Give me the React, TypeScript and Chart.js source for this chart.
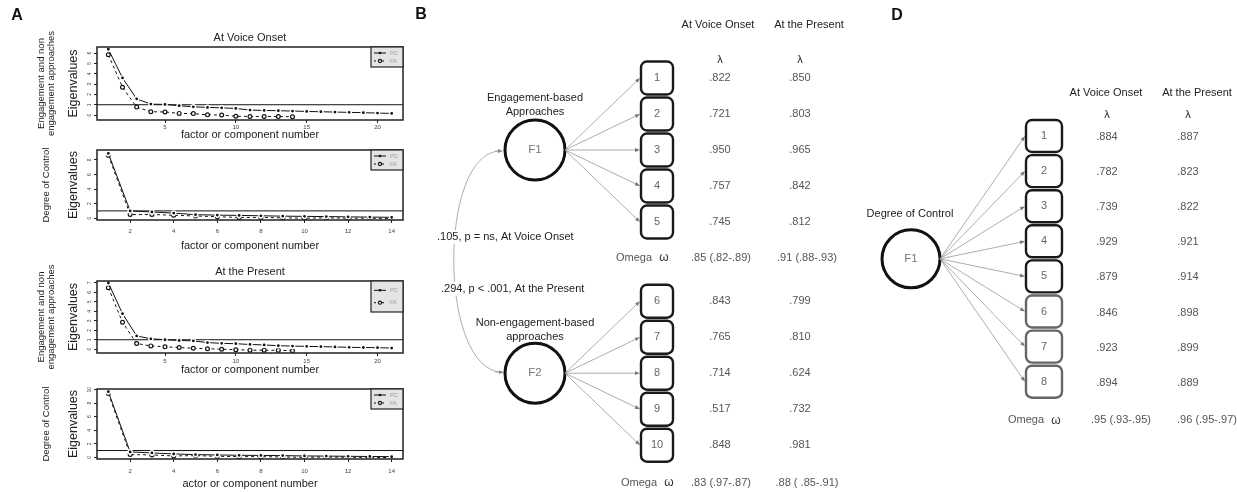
import React, { useEffect, useRef } from "react";
import { Chart, registerables } from "chart.js";

Chart.register(...registerables);

const FONT = '"Liberation Sans", Arial, Helvetica, sans-serif';

// ---------------- Panel A data (scree plots) ----------------
const componentsEngagement = [1, 2, 3, 4, 5, 6, 7, 8, 9, 10, 11, 12, 13, 14, 15, 16, 17, 18, 19, 20, 21];
const componentsControl = [1, 2, 3, 4, 5, 6, 7, 8, 9, 10, 11, 12, 13, 14];

const pcOnsetEngagement = [6.38, 3.6, 1.57, 1.06, 1.03, 0.9, 0.8, 0.74, 0.7, 0.64, 0.48, 0.45, 0.42, 0.39, 0.35, 0.32, 0.29, 0.26, 0.23, 0.19, 0.16];
const faOnsetEngagement = [5.85, 2.7, 0.77, 0.32, 0.3, 0.16, 0.14, 0.02, 0.0, -0.12, -0.14, -0.14, -0.15, -0.16];

const pcOnsetControl = [8.9, 1.0, 0.85, 0.7, 0.48, 0.42, 0.38, 0.33, 0.28, 0.25, 0.22, 0.18, 0.15, 0.12];
const faOnsetControl = [8.65, 0.5, 0.5, 0.4, 0.3, 0.2, 0.1, 0.1, 0.05, 0.0, 0.05, 0.0, 0.0, -0.05];

const pcPresentEngagement = [7.0, 3.75, 1.4, 1.1, 1.0, 0.92, 0.88, 0.7, 0.62, 0.58, 0.5, 0.45, 0.37, 0.33, 0.3, 0.27, 0.24, 0.2, 0.18, 0.16, 0.12];
const faPresentEngagement = [6.5, 2.85, 0.6, 0.35, 0.25, 0.18, 0.1, 0.05, 0.0, -0.05, -0.1, -0.1, -0.12, -0.15];

const pcPresentControl = [9.7, 0.8, 0.65, 0.5, 0.4, 0.35, 0.3, 0.28, 0.25, 0.2, 0.18, 0.15, 0.12, 0.1];
const faPresentControl = [9.45, 0.4, 0.35, 0.2, 0.25, 0.15, 0.1, 0.1, 0.05, 0.0, 0.05, 0.0, 0.0, -0.05];

const eigenCutoff = 1;
const xTicksEngagement = [5, 10, 15, 20];
const xTicksControl = [2, 4, 6, 8, 10, 12, 14];
const yTicksOnsetEngagement = [0, 1, 2, 3, 4, 5, 6];
const yTicksOnsetControl = [0, 2, 4, 6, 8];
const yTicksPresentEngagement = [0, 1, 2, 3, 4, 5, 6, 7];
const yTicksPresentControl = [0, 2, 4, 6, 8, 10];
const legendLabels = ["PC", "FA"];

// ---------------- Panel B data ----------------
const columnHeaders = ["At Voice Onset", "At the Present"];
const itemsB = ["1", "2", "3", "4", "5", "6", "7", "8", "9", "10"];
const itemFactorB = [0, 0, 0, 0, 0, 1, 1, 1, 1, 1];
const onsetLoadingsB = [".822", ".721", ".950", ".757", ".745", ".843", ".765", ".714", ".517", ".848"];
const presentLoadingsB = [".850", ".803", ".965", ".842", ".812", ".799", ".810", ".624", ".732", ".981"];
const omegaOnsetB = [".85 (.82-.89)", ".83 (.97-.87)"];
const omegaPresentB = [".91 (.88-.93)", ".88 ( .85-.91)"];
const factorsB = ["F1", "F2"];
const factorNamesB = [["Engagement-based", "Approaches"], ["Non-engagement-based", "approaches"]];
const correlationLabelsB = [".105, p = ns, At Voice Onset", ".294, p < .001, At the Present"];

// ---------------- Panel D data ----------------
const itemsD = ["1", "2", "3", "4", "5", "6", "7", "8"];
const onsetLoadingsD = [".884", ".782", ".739", ".929", ".879", ".846", ".923", ".894"];
const presentLoadingsD = [".887", ".823", ".822", ".921", ".914", ".898", ".899", ".889"];
const omegaOnsetD = ".95 (.93-.95)";
const omegaPresentD = ".96 (.95-.97)";
const factorD = "F1";
const factorNameD = "Degree of Control";

// ---------------- layout constants ----------------
const BOX_LEFT = 97;
const BOX_RIGHT = 403;
const A_CANVAS_W = 412;
const Y_AXIS_W = 16;
const X_AXIS_H = 14;

type ScreeSpec = {
  top: number;
  height: number;
  boxTop: number;
  boxBottom: number;
  xs: number[];
  pc: number[];
  fa: number[];
  xMin: number;
  xMax: number;
  yMin: number;
  yMax: number;
  xTicks: number[];
  yTicks: number[];
  title?: string;
  xTitle: string;
  outer: string[];
  tickGap: number;
  titleGap: number;
  legendH: number;
  letter?: string;
};

const screeSpecs: ScreeSpec[] = [
  {
    top: 0, height: 142, boxTop: 47, boxBottom: 120,
    xs: componentsEngagement, pc: pcOnsetEngagement, fa: faOnsetEngagement,
    xMin: 0.2, xMax: 21.8, yMin: -0.48, yMax: 6.6,
    xTicks: xTicksEngagement, yTicks: yTicksOnsetEngagement,
    title: "At Voice Onset", xTitle: "factor or component number",
    outer: ["Engagement and non", "engagement approaches"],
    tickGap: 7, titleGap: 15, legendH: 20, letter: "A",
  },
  {
    top: 142, height: 110, boxTop: 150, boxBottom: 220,
    xs: componentsControl, pc: pcOnsetControl, fa: faOnsetControl,
    xMin: 0.48, xMax: 14.52, yMin: -0.25, yMax: 9.37,
    xTicks: xTicksControl, yTicks: yTicksOnsetControl,
    xTitle: "factor or component number",
    outer: ["Degree of Control"],
    tickGap: 11, titleGap: 26, legendH: 20,
  },
  {
    top: 252, height: 122, boxTop: 281, boxBottom: 353,
    xs: componentsEngagement, pc: pcPresentEngagement, fa: faPresentEngagement,
    xMin: 0.2, xMax: 21.8, yMin: -0.4, yMax: 7.2,
    xTicks: xTicksEngagement, yTicks: yTicksPresentEngagement,
    title: "At the Present", xTitle: "factor or component number",
    outer: ["Engagement and non", "engagement approaches"],
    tickGap: 8, titleGap: 17, legendH: 31,
  },
  {
    top: 374, height: 118, boxTop: 389, boxBottom: 459,
    xs: componentsControl, pc: pcPresentControl, fa: faPresentControl,
    xMin: 0.48, xMax: 14.52, yMin: -0.25, yMax: 10.1,
    xTicks: xTicksControl, yTicks: yTicksPresentControl,
    xTitle: "actor or component number",
    outer: ["Degree of Control"],
    tickGap: 12, titleGap: 25, legendH: 20,
  },
];

function ScreePlot({ spec }: { spec: ScreeSpec }) {
  const ref = useRef<HTMLCanvasElement>(null);
  useEffect(() => {
    const s = spec;
    const canvas = ref.current!;
    const decor = {
      id: "screeDecor",
      beforeDatasetsDraw(chart: any) {
        const { ctx, chartArea: a, scales } = chart;
        const y = scales.y.getPixelForValue(eigenCutoff);
        ctx.save();
        ctx.strokeStyle = "#111";
        ctx.lineWidth = 1;
        ctx.beginPath();
        ctx.moveTo(a.left, y);
        ctx.lineTo(a.right, y);
        ctx.stroke();
        ctx.restore();
      },
      afterDraw(chart: any) {
        const { ctx, chartArea: a, scales } = chart;
        ctx.save();
        // frame
        ctx.strokeStyle = "#222";
        ctx.lineWidth = 1.5;
        ctx.strokeRect(a.left, a.top, a.right - a.left, a.bottom - a.top);
        // rotated y tick labels (R style)
        ctx.fillStyle = "#444";
        ctx.font = `5px ${FONT}`;
        ctx.textAlign = "center";
        ctx.textBaseline = "middle";
        s.yTicks.forEach((v) => {
          const py = scales.y.getPixelForValue(v);
          ctx.save();
          ctx.translate(a.left - 7, py);
          ctx.rotate(-Math.PI / 2);
          ctx.fillText(String(v), 0, 0);
          ctx.restore();
        });
        // legend
        const lw = 32;
        const lh = s.legendH;
        const lx = a.right - lw;
        const ly = a.top;
        ctx.fillStyle = "#e4e4e4";
        ctx.fillRect(lx, ly, lw, lh);
        ctx.lineWidth = 1.2;
        ctx.strokeStyle = "#222";
        ctx.strokeRect(lx, ly, lw, lh);
        legendLabels.forEach((lab, i) => {
          const yy = ly + (i === 0 ? 6 : 14) * (lh / 20);
          ctx.strokeStyle = "#111";
          ctx.lineWidth = 1;
          ctx.setLineDash(i === 0 ? [] : [2, 2]);
          ctx.beginPath();
          ctx.moveTo(lx + 3, yy);
          ctx.lineTo(lx + 15, yy);
          ctx.stroke();
          ctx.setLineDash([]);
          ctx.beginPath();
          ctx.arc(lx + 9, yy, i === 0 ? 1.3 : 1.6, 0, Math.PI * 2);
          if (i === 0) {
            ctx.fillStyle = "#111";
            ctx.fill();
          } else {
            ctx.fillStyle = "#e4e4e4";
            ctx.fill();
            ctx.lineWidth = 1.1;
            ctx.stroke();
          }
          ctx.fillStyle = "#9a9a9a";
          ctx.font = `5.5px ${FONT}`;
          ctx.textAlign = "left";
          ctx.textBaseline = "middle";
          ctx.fillText(lab, lx + 19, yy);
        });
        const cx = (a.left + a.right) / 2;
        const cy = (a.top + a.bottom) / 2;
        ctx.fillStyle = "#222";
        ctx.textAlign = "center";
        ctx.textBaseline = "middle";
        ctx.font = `11px ${FONT}`;
        if (s.title) ctx.fillText(s.title, cx, a.top - 9);
        ctx.fillText(s.xTitle, cx, a.bottom + s.titleGap);
        // Eigenvalues
        ctx.save();
        ctx.translate(74, cy);
        ctx.rotate(-Math.PI / 2);
        ctx.font = `12.5px ${FONT}`;
        ctx.fillText("Eigenvalues", 0, 0);
        ctx.restore();
        // outer labels
        const xs = s.outer.length === 2 ? [41, 51] : [46];
        s.outer.forEach((t, i) => {
          ctx.save();
          ctx.translate(xs[i], cy);
          ctx.rotate(-Math.PI / 2);
          ctx.font = `9.5px ${FONT}`;
          ctx.fillText(t, 0, 0);
          ctx.restore();
        });
        if (s.letter) {
          ctx.font = `bold 16px ${FONT}`;
          ctx.fillStyle = "#111";
          ctx.fillText(s.letter, 17, 16);
        }
        ctx.restore();
      },
    };
    const chart = new Chart(canvas, {
      type: "scatter",
      data: {
        datasets: [
          {
            label: legendLabels[1],
            data: s.fa.map((v, i) => ({ x: s.xs[i], y: v })),
            showLine: true,
            borderColor: "#111",
            borderWidth: 1,
            borderDash: [3, 3],
            pointRadius: 1.9,
            pointBackgroundColor: "#fff",
            pointBorderColor: "#111",
            pointBorderWidth: 1.2,
            order: 2,
          },
          {
            label: legendLabels[0],
            data: s.pc.map((v, i) => ({ x: s.xs[i], y: v })),
            showLine: true,
            borderColor: "#111",
            borderWidth: 1,
            pointRadius: 2.1,
            pointBackgroundColor: "#111",
            pointBorderColor: "#fff",
            pointBorderWidth: 1.4,
            order: 1,
          },
        ],
      },
      options: {
        animation: false,
        responsive: false,
        maintainAspectRatio: false,
        devicePixelRatio: 1,
        layout: {
          padding: {
            left: BOX_LEFT - Y_AXIS_W,
            right: A_CANVAS_W - BOX_RIGHT,
            top: s.boxTop - s.top,
            bottom: s.top + s.height - s.boxBottom - X_AXIS_H,
          },
        },
        plugins: { legend: { display: false }, tooltip: { enabled: false } },
        scales: {
          x: {
            type: "linear",
            min: s.xMin,
            max: s.xMax,
            afterFit: (sc: any) => {
              sc.height = X_AXIS_H;
            },
            afterBuildTicks: (sc: any) => {
              sc.ticks = s.xTicks.map((v) => ({ value: v }));
            },
            grid: { display: true, drawOnChartArea: false, drawTicks: true, tickLength: 3, color: "#222" },
            border: { display: false },
            ticks: { font: { size: 6, family: FONT }, color: "#444", padding: s.tickGap - 6, maxRotation: 0, autoSkip: false },
          },
          y: {
            type: "linear",
            min: s.yMin,
            max: s.yMax,
            afterFit: (sc: any) => {
              sc.width = Y_AXIS_W;
            },
            afterBuildTicks: (sc: any) => {
              sc.ticks = s.yTicks.map((v) => ({ value: v }));
            },
            grid: { display: true, drawOnChartArea: false, drawTicks: true, tickLength: 3, color: "#222" },
            border: { display: false },
            ticks: { display: false },
          },
        },
      },
      plugins: [decor],
    } as any);
    return () => chart.destroy();
  }, [spec]);
  return (
    <canvas
      ref={ref}
      width={A_CANVAS_W}
      height={spec.height}
      style={{ position: "absolute", left: 0, top: spec.top, width: A_CANVAS_W, height: spec.height }}
    />
  );
}

// ---------------- diagram helpers ----------------
function arrow(ctx: CanvasRenderingContext2D, x0: number, y0: number, x1: number, y1: number) {
  const ang = Math.atan2(y1 - y0, x1 - x0);
  const c = Math.cos(ang);
  const sn = Math.sin(ang);
  ctx.beginPath();
  ctx.moveTo(x0, y0);
  ctx.lineTo(x1 - c * 3, y1 - sn * 3);
  ctx.stroke();
  const L = 5;
  const W = 1.9;
  ctx.beginPath();
  ctx.moveTo(x1, y1);
  ctx.lineTo(x1 - L * c + W * sn, y1 - L * sn - W * c);
  ctx.lineTo(x1 - L * c - W * sn, y1 - L * sn + W * c);
  ctx.closePath();
  ctx.fill();
}

function text(ctx: CanvasRenderingContext2D, t: string, x: number, y: number, size: number, color: string, align: CanvasTextAlign = "center", weight = "") {
  ctx.font = `${weight} ${size}px ${FONT}`;
  ctx.fillStyle = color;
  ctx.textAlign = align;
  ctx.textBaseline = "middle";
  ctx.fillText(t, x, y);
}

type DiagramSpec = {
  left: number;
  width: number;
  row0: number;
  rowH: number;
  draw: (ctx: CanvasRenderingContext2D, X: (v: number) => number, Y: (r: number) => number) => void;
  nodes: { x: number; y: number }[];
};

function Diagram({ spec }: { spec: DiagramSpec }) {
  const ref = useRef<HTMLCanvasElement>(null);
  useEffect(() => {
    const s = spec;
    const yMin = -s.row0 / s.rowH;
    const yMax = yMin + 492 / s.rowH;
    const plugin = {
      id: "diagram",
      afterDraw(chart: any) {
        const { ctx, scales } = chart;
        const X = (v: number) => scales.x.getPixelForValue(v);
        const Y = (r: number) => scales.y.getPixelForValue(r);
        ctx.save();
        s.draw(ctx, X, Y);
        ctx.restore();
      },
    };
    const chart = new Chart(ref.current!, {
      type: "scatter",
      data: { datasets: [{ data: s.nodes, pointRadius: 0 }] },
      options: {
        animation: false,
        responsive: false,
        maintainAspectRatio: false,
        devicePixelRatio: 1,
        layout: { padding: 0 },
        plugins: { legend: { display: false }, tooltip: { enabled: false } },
        scales: {
          x: { type: "linear", min: s.left, max: s.left + s.width, display: false },
          y: { type: "linear", min: yMin, max: yMax, reverse: true, display: false },
        },
      },
      plugins: [plugin],
    } as any);
    return () => chart.destroy();
  }, [spec]);
  return (
    <canvas
      ref={ref}
      width={spec.width}
      height={492}
      style={{ position: "absolute", left: spec.left, top: 0, width: spec.width, height: 492 }}
    />
  );
}

// Panel B layout
const B_GROUP_START = [0, 6.2];
const B_FACTOR_X = 535;
const B_FACTOR_R = 30;
const B_BOX_X = 641;
const B_BOX_W = 32;
const B_BOX_H = 33;
const B_HEAD_X = [718, 809];
const B_VAL_X = [720, 800];
const B_OMEGA_VAL_X = [721, 807];
const rowOfB = (i: number) => B_GROUP_START[itemFactorB[i]] + (i - itemFactorB[i] * 5);

const specB: DiagramSpec = {
  left: 405,
  width: 455,
  row0: 78,
  rowH: 36,
  nodes: itemsB.map((_, i) => ({ x: B_BOX_X, y: rowOfB(i) })),
  draw: (ctx, X, Y) => {
    text(ctx, "B", X(421), 15, 16, "#111", "center", "bold");
    columnHeaders.forEach((h, j) => {
      text(ctx, h, X(B_HEAD_X[j]), Y(-1.47), 11, "#222");
      text(ctx, "λ", X(B_VAL_X[j]), Y(-0.5), 11, "#222");
    });
    // correlation curve
    const fy = B_GROUP_START.map((g) => g + 2);
    const x0 = X(B_FACTOR_X - B_FACTOR_R - 2);
    const y0 = Y(fy[0]) + 1;
    const y1 = Y(fy[1]) - 1;
    ctx.strokeStyle = "#999";
    ctx.fillStyle = "#888";
    ctx.lineWidth = 0.8;
    ctx.beginPath();
    ctx.moveTo(x0 - 3, y0);
    ctx.bezierCurveTo(X(438), y0 + 1, X(438), y1 - 2, x0 - 1, y1);
    ctx.stroke();
    arrow(ctx, x0 - 8, y0, x0, y0);
    arrow(ctx, x0 - 8, y1, x0 + 1, y1);
    // correlation labels with white backing
    const corrPos = [
      { x: 437, r: 4.42 },
      { x: 441, r: 5.86 },
    ];
    correlationLabelsB.forEach((t, i) => {
      ctx.font = `11px ${FONT}`;
      const w = ctx.measureText(t).width;
      ctx.fillStyle = "#fff";
      ctx.fillRect(X(corrPos[i].x) - 1, Y(corrPos[i].r) - 7, w + 2, 14);
      text(ctx, t, X(corrPos[i].x), Y(corrPos[i].r), 11, "#222", "left");
    });
    // factors
    factorsB.forEach((f, g) => {
      const cy = Y(fy[g]);
      ctx.beginPath();
      ctx.arc(X(B_FACTOR_X), cy, B_FACTOR_R, 0, Math.PI * 2);
      ctx.strokeStyle = "#111";
      ctx.lineWidth = 3;
      ctx.stroke();
      text(ctx, f, X(B_FACTOR_X), cy, 11.5, "#777");
      const off = g === 0 ? [-52, -38] : [-50, -36];
      factorNamesB[g].forEach((t, k) => text(ctx, t, X(B_FACTOR_X), cy + off[k], 11, "#222"));
    });
    // arrows & boxes
    itemsB.forEach((it, i) => {
      const r = rowOfB(i);
      const g = itemFactorB[i];
      const cy = Y(r);
      ctx.strokeStyle = "#999";
      ctx.fillStyle = "#777";
      ctx.lineWidth = 0.8;
      arrow(ctx, X(B_FACTOR_X + B_FACTOR_R), Y(fy[g]), X(B_BOX_X) - 1, cy);
      ctx.beginPath();
      (ctx as any).roundRect(X(B_BOX_X), cy - B_BOX_H / 2, B_BOX_W, B_BOX_H, 6);
      ctx.strokeStyle = "#1a1a1a";
      ctx.lineWidth = 2.4;
      ctx.stroke();
      text(ctx, it, X(B_BOX_X + B_BOX_W / 2), cy, 11, "#666");
      text(ctx, onsetLoadingsB[i], X(B_VAL_X[0]), cy, 11, "#555");
      text(ctx, presentLoadingsB[i], X(B_VAL_X[1]), cy, 11, "#555");
    });
    // omega rows
    const omegaX = [664, 669];
    B_GROUP_START.forEach((g, k) => {
      const cy = Y(g + 5 - (k === 0 ? 0 : -0.05));
      text(ctx, "Omega", X(omegaX[k] - 12), cy, 11, "#555", "right");
      text(ctx, "ω", X(omegaX[k]), cy, 12, "#333");
      text(ctx, omegaOnsetB[k], X(B_OMEGA_VAL_X[0]), cy, 11, "#555");
      text(ctx, omegaPresentB[k], X(B_OMEGA_VAL_X[1]), cy, 11, "#555");
    });
  },
};

// Panel D layout
const D_FACTOR_X = 911;
const D_FACTOR_R = 29;
const D_BOX_X = 1026;
const D_BOX_W = 36;
const D_BOX_H = 32;
const D_HEAD_X = [1106, 1197];
const D_VAL_X = [1107, 1188];
const D_OMEGA_VAL_X = [1121, 1207];

const specD: DiagramSpec = {
  left: 860,
  width: 377,
  row0: 136,
  rowH: 35.1,
  nodes: itemsD.map((_, i) => ({ x: D_BOX_X, y: i })),
  draw: (ctx, X, Y) => {
    text(ctx, "D", X(897), 16, 16, "#111", "center", "bold");
    columnHeaders.forEach((h, j) => {
      text(ctx, h, X(D_HEAD_X[j]), Y(-1.22), 11, "#222");
      text(ctx, "λ", X(D_VAL_X[j]), Y(-0.6), 11, "#222");
    });
    const fRow = (itemsD.length - 1) / 2;
    const cy = Y(fRow);
    ctx.beginPath();
    ctx.arc(X(D_FACTOR_X), cy, D_FACTOR_R, 0, Math.PI * 2);
    ctx.strokeStyle = "#111";
    ctx.lineWidth = 3;
    ctx.stroke();
    text(ctx, factorD, X(D_FACTOR_X), cy, 11.5, "#777");
    text(ctx, factorNameD, X(D_FACTOR_X - 1), cy - 45, 11, "#222");
    itemsD.forEach((it, i) => {
      const y = Y(i);
      ctx.strokeStyle = "#999";
      ctx.fillStyle = "#777";
      ctx.lineWidth = 0.8;
      arrow(ctx, X(D_FACTOR_X + D_FACTOR_R), cy, X(D_BOX_X) - 1, y);
      ctx.beginPath();
      (ctx as any).roundRect(X(D_BOX_X), y - D_BOX_H / 2, D_BOX_W, D_BOX_H, 6);
      ctx.strokeStyle = i < 5 ? "#1a1a1a" : "#666";
      ctx.lineWidth = 2.4;
      ctx.stroke();
      text(ctx, it, X(D_BOX_X + D_BOX_W / 2), y, 11, "#666");
      text(ctx, onsetLoadingsD[i], X(D_VAL_X[0]), y + 1, 11, "#555");
      text(ctx, presentLoadingsD[i], X(D_VAL_X[1]), y + 1, 11, "#555");
    });
    const oy = Y(itemsD.length + 0.1);
    text(ctx, "Omega", X(1044), oy, 11, "#555", "right");
    text(ctx, "ω", X(1056), oy, 12, "#333");
    text(ctx, omegaOnsetD, X(D_OMEGA_VAL_X[0]), oy, 11, "#555");
    text(ctx, omegaPresentD, X(D_OMEGA_VAL_X[1]), oy, 11, "#555");
  },
};

export default function App() {
  return (
    <div
      style={{
        position: "absolute",
        left: 0,
        top: 0,
        width: 1237,
        height: 492,
        background: "#fff",
        overflow: "hidden",
      }}
    >
      {screeSpecs.map((s, i) => (
        <ScreePlot key={i} spec={s} />
      ))}
      <Diagram spec={specB} />
      <Diagram spec={specD} />
    </div>
  );
}
